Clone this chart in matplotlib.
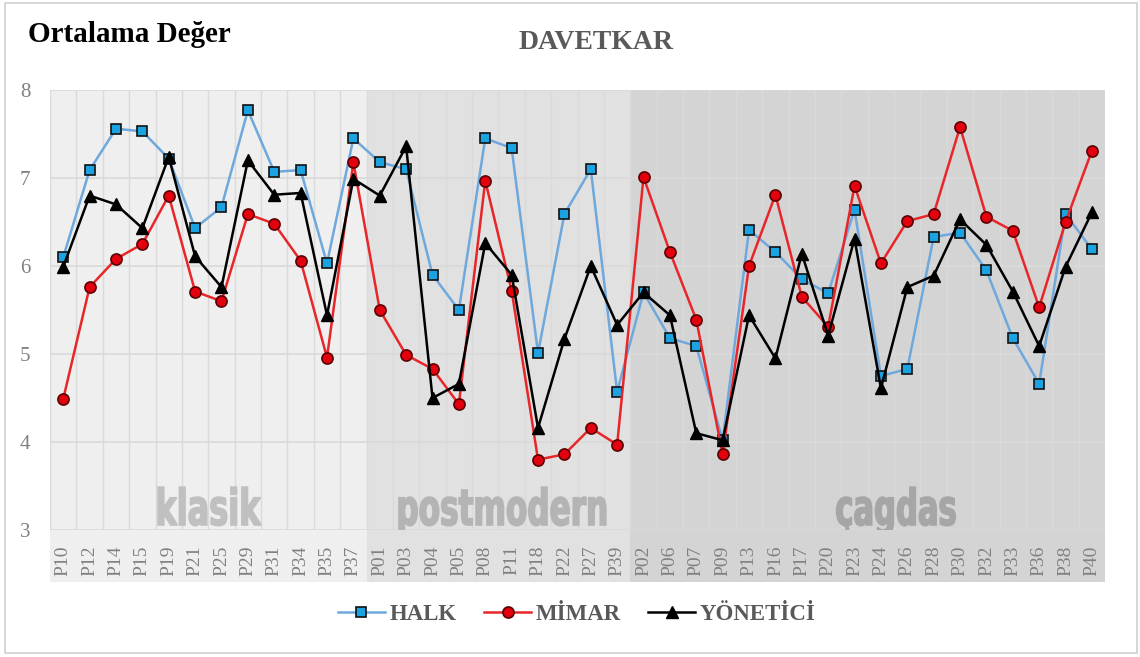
import matplotlib
matplotlib.use("Agg")
import matplotlib.pyplot as plt
from matplotlib.patches import Rectangle, PathPatch
from matplotlib.lines import Line2D
from matplotlib.textpath import TextPath
from matplotlib.font_manager import FontProperties
from matplotlib.transforms import Affine2D

# --- data ---
codes = ["P10", "P12", "P14", "P15", "P19", "P21", "P25", "P29", "P31", "P34", "P35", "P37",
         "P01", "P03", "P04", "P05", "P08", "P11", "P18", "P22", "P27", "P39",
         "P02", "P06", "P07", "P09", "P13", "P16", "P17", "P20", "P23", "P24", "P26", "P28",
         "P30", "P32", "P33", "P36", "P38", "P40"]

groups = ["klasik", "postmodern", "çagdas"]
group_sizes = [12, 10, 18]

halk = [6.10, 7.09, 7.56, 7.53, 7.22, 6.43, 6.67, 7.77, 7.07, 7.09, 6.03, 7.45,
        7.18, 7.10, 5.90, 5.50, 7.45, 7.34, 5.01, 6.59, 7.10, 4.57,
        5.70, 5.18, 5.09, 4.02, 6.41, 6.16, 5.85, 5.69, 6.64, 4.75, 4.83, 6.33,
        6.38, 5.95, 5.18, 4.66, 6.59, 6.19]

mimar = [4.49, 5.76, 6.08, 6.25, 6.80, 5.71, 5.60, 6.59, 6.48, 6.06, 4.96, 7.18,
         5.50, 4.99, 4.83, 4.43, 6.97, 5.72, 3.80, 3.86, 4.16, 3.97,
         7.01, 6.16, 5.39, 3.86, 6.00, 6.81, 5.65, 5.31, 6.91, 6.03, 6.51, 6.59,
         7.58, 6.56, 6.40, 5.53, 6.50, 7.31]

yonetici = [5.99, 6.80, 6.70, 6.43, 7.24, 6.11, 5.76, 7.20, 6.81, 6.83, 5.44, 6.99,
            6.80, 7.36, 4.50, 4.66, 6.26, 5.90, 4.16, 5.17, 6.00, 5.33,
            5.70, 5.44, 4.10, 4.02, 5.44, 4.95, 6.14, 5.21, 6.31, 4.61, 5.76, 5.89,
            6.53, 6.24, 5.71, 5.09, 5.99, 6.61]

band_colors = ["#efefef", "#e1e1e1", "#d4d4d4"]
word_colors = ["#c0c0c0", "#b4b4b4", "#a6a6a6"]
# watermark words: centre (in category units), width (category units)
word_centers = [5.55, 16.65, 31.57]
word_widths = [3.9, 7.84, 4.5]
word_height = 0.43   # ascender height in y units

serif = "Liberation Serif"

fig = plt.figure(figsize=(11.4, 6.57), dpi=100)
fig.patches.append(Rectangle((0.0044, 0.006), 0.993, 0.989, transform=fig.transFigure,
                             facecolor="none", edgecolor="#d0d0d0", linewidth=1.2, zorder=0))
ax = fig.add_axes([0.0439, 0.1933, 0.9255, 0.6697])
ax.set_facecolor("none")

x = list(range(len(codes)))
ax.set_xlim(-0.5, len(codes) - 0.5)
ax.set_ylim(3, 8)

# background bands per style group, continued under the tick labels
start = 0
for n, bc in zip(group_sizes, band_colors):
    ax.add_patch(Rectangle((start - 0.5, 2.41), n, 5.59, facecolor=bc, edgecolor="none",
                           zorder=0, clip_on=False))
    start += n

# grid
for i in range(len(codes) + 1):
    ax.plot([i - 0.5, i - 0.5], [3, 8], color="#dadada", lw=1.0, zorder=1)
for v in range(3, 9):
    ax.plot([-0.5, len(codes) - 0.5], [v, v], color="#dadada", lw=1.3, zorder=1)

# group names as narrow bold outlines, squeezed to width
fp = FontProperties(family="Liberation Sans Narrow", weight="bold")
for g, c, w, wc in zip(groups, word_centers, word_widths, word_colors):
    tp = TextPath((0, 0), g, size=1, prop=fp)
    bb = tp.get_extents()
    sx = w / bb.width
    sy = word_height / bb.y1
    tr = Affine2D().translate(-bb.x0, 0).scale(sx, sy).translate(c - w / 2, 3.057) + ax.transData
    ax.add_patch(PathPatch(tp, transform=tr, facecolor=wc, edgecolor=wc, linewidth=1.2,
                           zorder=2))

ax.plot(x, halk, color="#6fa8dc", lw=1.8, marker="s", markersize=7.5,
        markerfacecolor="#1aa3e0", markeredgecolor="#111111", markeredgewidth=1.2, zorder=4)
ax.plot(x, mimar, color="#e8262a", lw=1.8, marker="o", markersize=8,
        markerfacecolor="#e3000f", markeredgecolor="#5a0000", markeredgewidth=1.2, zorder=5)
ax.plot(x, yonetici, color="#000000", lw=1.8, marker="^", markersize=9,
        markerfacecolor="#000000", markeredgecolor="#000000", zorder=6)

ax.set_xticks(x)
ax.set_xticklabels(codes, rotation=90, fontsize=14, family=serif, color="#808080")
ax.set_yticks(range(3, 9))
ax.set_yticklabels([str(v) for v in range(3, 9)], fontsize=15, family=serif, color="#808080")
ax.tick_params(axis="x", length=0, pad=11)
ax.tick_params(axis="y", length=0, pad=14)
for s in ax.spines.values():
    s.set_visible(False)

fig.text(0.0245, 0.936, "Ortalama Değer", fontsize=21, fontweight="bold", family=serif,
         color="black", va="baseline")
fig.text(0.523, 0.9254, "DAVETKAR", fontsize=20, fontweight="bold", family=serif,
         color="#595959", ha="center", va="baseline")

handles = [
    Line2D([], [], color="#6fa8dc", lw=1.8, marker="s", markersize=7.5,
           markerfacecolor="#1aa3e0", markeredgecolor="#111111", markeredgewidth=1.2),
    Line2D([], [], color="#e8262a", lw=1.8, marker="o", markersize=8,
           markerfacecolor="#e3000f", markeredgecolor="#5a0000", markeredgewidth=1.2),
    Line2D([], [], color="#000000", lw=1.8, marker="^", markersize=9),
]
fig.legend(handles, ["HALK", "MİMAR", "YÖNETİCİ"], loc="center", bbox_to_anchor=(0.506, 0.064),
           ncol=3, frameon=False, handlelength=2.05, handletextpad=0.2, columnspacing=1.2,
           prop={"family": serif, "weight": "bold", "size": 16.5}, labelcolor="#595959")

fig.savefig("out.png", dpi=100)
